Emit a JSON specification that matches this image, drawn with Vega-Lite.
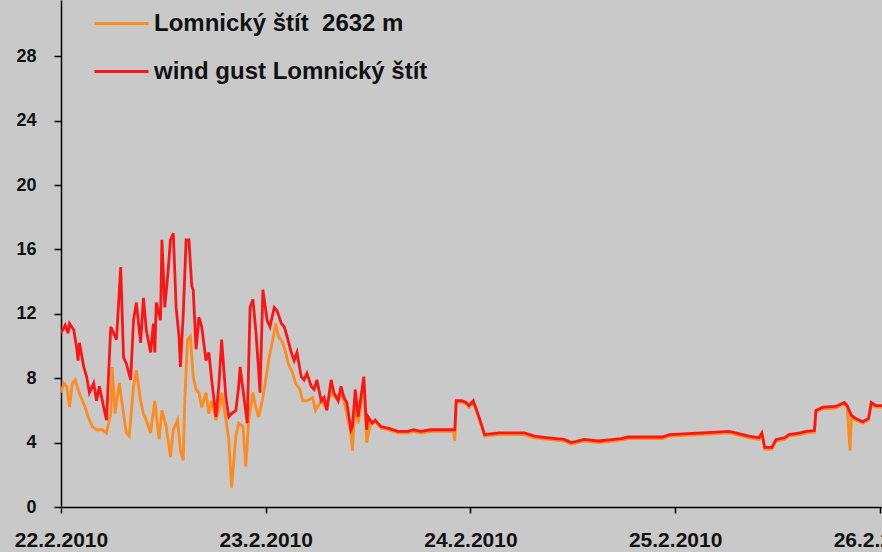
{
  "$schema": "https://vega.github.io/schema/vega-lite/v6.json",
  "width": 821,
  "height": 507,
  "autosize": {"type": "none"},
  "padding": {"left": 61, "top": 0, "right": 0, "bottom": 45},
  "background": "#c9c9c9",
  "config": {
    "view": {"stroke": null, "fill": "#c9c9c9"},
    "axis": {
      "domainColor": "#000000",
      "domainWidth": 1.5,
      "tickColor": "#000000",
      "tickWidth": 1.5,
      "labelFont": "Liberation Sans",
      "labelFontWeight": "bold",
      "labelColor": "#111111",
      "grid": false,
      "title": null
    }
  },
  "datasets": {
    "speed": [
      {"t": "2010-02-22T00:00", "v": 7.1}, {"t": "2010-02-22T00:20", "v": 7.7}, {"t": "2010-02-22T00:40", "v": 7.5},
      {"t": "2010-02-22T01:00", "v": 6.2}, {"t": "2010-02-22T01:20", "v": 7.7}, {"t": "2010-02-22T01:40", "v": 7.9},
      {"t": "2010-02-22T02:00", "v": 7.3}, {"t": "2010-02-22T02:30", "v": 6.6}, {"t": "2010-02-22T02:50", "v": 6.2},
      {"t": "2010-02-22T03:10", "v": 5.6}, {"t": "2010-02-22T03:40", "v": 5.0}, {"t": "2010-02-22T04:10", "v": 4.8},
      {"t": "2010-02-22T04:50", "v": 4.8}, {"t": "2010-02-22T05:20", "v": 4.6}, {"t": "2010-02-22T05:50", "v": 5.8},
      {"t": "2010-02-22T06:00", "v": 8.7}, {"t": "2010-02-22T06:20", "v": 5.8}, {"t": "2010-02-22T06:50", "v": 7.7},
      {"t": "2010-02-22T07:20", "v": 5.8}, {"t": "2010-02-22T07:40", "v": 4.6}, {"t": "2010-02-22T08:00", "v": 4.4},
      {"t": "2010-02-22T08:30", "v": 7.5}, {"t": "2010-02-22T08:50", "v": 8.5}, {"t": "2010-02-22T09:20", "v": 6.6},
      {"t": "2010-02-22T09:40", "v": 5.8}, {"t": "2010-02-22T10:00", "v": 5.4}, {"t": "2010-02-22T10:30", "v": 4.6},
      {"t": "2010-02-22T11:00", "v": 6.6}, {"t": "2010-02-22T11:30", "v": 4.2}, {"t": "2010-02-22T11:50", "v": 6.0},
      {"t": "2010-02-22T12:20", "v": 5.0}, {"t": "2010-02-22T12:50", "v": 3.1}, {"t": "2010-02-22T13:10", "v": 4.8},
      {"t": "2010-02-22T13:40", "v": 5.4}, {"t": "2010-02-22T14:00", "v": 3.5}, {"t": "2010-02-22T14:20", "v": 2.9},
      {"t": "2010-02-22T14:30", "v": 6.5}, {"t": "2010-02-22T14:50", "v": 10.4}, {"t": "2010-02-22T15:10", "v": 10.6},
      {"t": "2010-02-22T15:30", "v": 8.1}, {"t": "2010-02-22T15:50", "v": 7.3}, {"t": "2010-02-22T16:10", "v": 7.1},
      {"t": "2010-02-22T16:30", "v": 6.2}, {"t": "2010-02-22T17:00", "v": 7.1}, {"t": "2010-02-22T17:20", "v": 5.8},
      {"t": "2010-02-22T17:40", "v": 6.6}, {"t": "2010-02-22T18:10", "v": 5.4}, {"t": "2010-02-22T18:30", "v": 6.0},
      {"t": "2010-02-22T18:50", "v": 7.1}, {"t": "2010-02-22T19:20", "v": 5.4}, {"t": "2010-02-22T19:40", "v": 4.2},
      {"t": "2010-02-22T20:00", "v": 1.2}, {"t": "2010-02-22T20:30", "v": 4.4}, {"t": "2010-02-22T20:50", "v": 5.2},
      {"t": "2010-02-22T21:20", "v": 5.0}, {"t": "2010-02-22T21:40", "v": 2.5}, {"t": "2010-02-22T22:00", "v": 5.4},
      {"t": "2010-02-22T22:30", "v": 7.1}, {"t": "2010-02-22T22:50", "v": 6.2}, {"t": "2010-02-22T23:10", "v": 5.6},
      {"t": "2010-02-22T23:40", "v": 6.8},
      {"t": "2010-02-23T00:00", "v": 7.9}, {"t": "2010-02-23T00:20", "v": 9.1}, {"t": "2010-02-23T00:50", "v": 10.4},
      {"t": "2010-02-23T01:10", "v": 11.4}, {"t": "2010-02-23T01:30", "v": 10.6}, {"t": "2010-02-23T02:00", "v": 10.2},
      {"t": "2010-02-23T02:20", "v": 9.6}, {"t": "2010-02-23T02:40", "v": 8.9}, {"t": "2010-02-23T03:10", "v": 8.3},
      {"t": "2010-02-23T03:30", "v": 7.7}, {"t": "2010-02-23T04:00", "v": 7.3}, {"t": "2010-02-23T04:20", "v": 6.6},
      {"t": "2010-02-23T04:50", "v": 6.6}, {"t": "2010-02-23T05:30", "v": 6.8}, {"t": "2010-02-23T05:50", "v": 6.0},
      {"t": "2010-02-23T06:30", "v": 6.6}, {"t": "2010-02-23T07:00", "v": 6.2}, {"t": "2010-02-23T07:40", "v": 7.1},
      {"t": "2010-02-23T08:30", "v": 6.6}, {"t": "2010-02-23T08:50", "v": 7.2}, {"t": "2010-02-23T09:20", "v": 6.2},
      {"t": "2010-02-23T10:00", "v": 4.5}, {"t": "2010-02-23T10:10", "v": 3.5}, {"t": "2010-02-23T10:30", "v": 6.8},
      {"t": "2010-02-23T10:50", "v": 5.2}, {"t": "2010-02-23T11:30", "v": 7.6}, {"t": "2010-02-23T11:50", "v": 4.0},
      {"t": "2010-02-23T12:20", "v": 5.3}, {"t": "2010-02-23T12:50", "v": 5.3}, {"t": "2010-02-23T13:30", "v": 4.9},
      {"t": "2010-02-23T14:20", "v": 4.8}, {"t": "2010-02-23T15:30", "v": 4.6}, {"t": "2010-02-23T16:40", "v": 4.6},
      {"t": "2010-02-23T17:20", "v": 4.7}, {"t": "2010-02-23T18:10", "v": 4.6}, {"t": "2010-02-23T19:20", "v": 4.7},
      {"t": "2010-02-23T22:00", "v": 4.7}, {"t": "2010-02-23T22:10", "v": 4.1}, {"t": "2010-02-23T22:20", "v": 6.5},
      {"t": "2010-02-23T23:00", "v": 6.5}, {"t": "2010-02-23T23:30", "v": 6.4}, {"t": "2010-02-23T23:50", "v": 6.2},
      {"t": "2010-02-24T00:20", "v": 6.5}, {"t": "2010-02-24T01:00", "v": 5.5}, {"t": "2010-02-24T01:40", "v": 4.4},
      {"t": "2010-02-24T03:20", "v": 4.5}, {"t": "2010-02-24T06:20", "v": 4.5}, {"t": "2010-02-24T07:30", "v": 4.3},
      {"t": "2010-02-24T09:10", "v": 4.2}, {"t": "2010-02-24T11:00", "v": 4.1}, {"t": "2010-02-24T11:50", "v": 3.9},
      {"t": "2010-02-24T13:20", "v": 4.1}, {"t": "2010-02-24T15:00", "v": 4.0}, {"t": "2010-02-24T16:50", "v": 4.1},
      {"t": "2010-02-24T17:40", "v": 4.15}, {"t": "2010-02-24T18:30", "v": 4.25}, {"t": "2010-02-24T22:30", "v": 4.25},
      {"t": "2010-02-24T23:20", "v": 4.4},
      {"t": "2010-02-25T03:10", "v": 4.5}, {"t": "2010-02-25T06:20", "v": 4.6}, {"t": "2010-02-25T08:40", "v": 4.3},
      {"t": "2010-02-25T09:50", "v": 4.2}, {"t": "2010-02-25T10:10", "v": 4.5}, {"t": "2010-02-25T10:30", "v": 3.6},
      {"t": "2010-02-25T11:20", "v": 3.6}, {"t": "2010-02-25T11:50", "v": 4.1}, {"t": "2010-02-25T12:50", "v": 4.2},
      {"t": "2010-02-25T13:20", "v": 4.4}, {"t": "2010-02-25T14:40", "v": 4.5}, {"t": "2010-02-25T15:20", "v": 4.6},
      {"t": "2010-02-25T16:20", "v": 4.65}, {"t": "2010-02-25T16:30", "v": 5.9}, {"t": "2010-02-25T17:20", "v": 6.1},
      {"t": "2010-02-25T18:50", "v": 6.15}, {"t": "2010-02-25T19:50", "v": 6.4}, {"t": "2010-02-25T20:10", "v": 6.2},
      {"t": "2010-02-25T20:30", "v": 3.5}, {"t": "2010-02-25T20:40", "v": 5.6}, {"t": "2010-02-25T21:10", "v": 5.4},
      {"t": "2010-02-25T22:00", "v": 5.2}, {"t": "2010-02-25T22:40", "v": 5.4}, {"t": "2010-02-25T23:00", "v": 6.4},
      {"t": "2010-02-25T23:30", "v": 6.2}, {"t": "2010-02-26T00:35", "v": 6.2}
    ],
    "gust": [
      {"t": "2010-02-22T00:00", "v": 10.8}, {"t": "2010-02-22T00:30", "v": 11.3}, {"t": "2010-02-22T00:50", "v": 10.8},
      {"t": "2010-02-22T01:00", "v": 11.4}, {"t": "2010-02-22T01:30", "v": 11.0}, {"t": "2010-02-22T01:50", "v": 9.9},
      {"t": "2010-02-22T02:00", "v": 9.1}, {"t": "2010-02-22T02:10", "v": 10.2}, {"t": "2010-02-22T02:40", "v": 8.7},
      {"t": "2010-02-22T03:00", "v": 8.1}, {"t": "2010-02-22T03:20", "v": 7.1}, {"t": "2010-02-22T03:50", "v": 7.7},
      {"t": "2010-02-22T04:10", "v": 6.6}, {"t": "2010-02-22T04:30", "v": 7.5}, {"t": "2010-02-22T05:00", "v": 6.2},
      {"t": "2010-02-22T05:20", "v": 5.4}, {"t": "2010-02-22T05:50", "v": 11.2}, {"t": "2010-02-22T06:10", "v": 10.8},
      {"t": "2010-02-22T06:30", "v": 10.4}, {"t": "2010-02-22T07:00", "v": 14.9}, {"t": "2010-02-22T07:20", "v": 9.3},
      {"t": "2010-02-22T07:40", "v": 8.9}, {"t": "2010-02-22T08:10", "v": 7.9}, {"t": "2010-02-22T08:30", "v": 11.6},
      {"t": "2010-02-22T08:50", "v": 12.7}, {"t": "2010-02-22T09:20", "v": 10.2}, {"t": "2010-02-22T09:40", "v": 13.0},
      {"t": "2010-02-22T10:00", "v": 11.0}, {"t": "2010-02-22T10:30", "v": 9.6}, {"t": "2010-02-22T10:50", "v": 11.4},
      {"t": "2010-02-22T11:00", "v": 9.6}, {"t": "2010-02-22T11:10", "v": 12.7}, {"t": "2010-02-22T11:40", "v": 11.6},
      {"t": "2010-02-22T11:50", "v": 16.6}, {"t": "2010-02-22T12:10", "v": 12.4}, {"t": "2010-02-22T12:30", "v": 14.3},
      {"t": "2010-02-22T12:50", "v": 16.6}, {"t": "2010-02-22T13:10", "v": 17.0}, {"t": "2010-02-22T13:30", "v": 12.4},
      {"t": "2010-02-22T13:50", "v": 10.6}, {"t": "2010-02-22T14:00", "v": 8.7}, {"t": "2010-02-22T14:20", "v": 12.0},
      {"t": "2010-02-22T14:40", "v": 16.6}, {"t": "2010-02-22T15:00", "v": 16.6}, {"t": "2010-02-22T15:20", "v": 13.7},
      {"t": "2010-02-22T15:30", "v": 13.5}, {"t": "2010-02-22T15:50", "v": 9.8}, {"t": "2010-02-22T16:10", "v": 11.8},
      {"t": "2010-02-22T16:30", "v": 11.2}, {"t": "2010-02-22T17:00", "v": 9.1}, {"t": "2010-02-22T17:20", "v": 9.6},
      {"t": "2010-02-22T17:40", "v": 7.9}, {"t": "2010-02-22T18:10", "v": 5.6}, {"t": "2010-02-22T18:30", "v": 7.5},
      {"t": "2010-02-22T18:50", "v": 10.4}, {"t": "2010-02-22T19:20", "v": 6.8}, {"t": "2010-02-22T19:40", "v": 5.6},
      {"t": "2010-02-22T20:00", "v": 5.8}, {"t": "2010-02-22T20:30", "v": 6.0}, {"t": "2010-02-22T20:50", "v": 7.5},
      {"t": "2010-02-22T21:00", "v": 8.7}, {"t": "2010-02-22T21:30", "v": 6.6}, {"t": "2010-02-22T21:50", "v": 5.2},
      {"t": "2010-02-22T22:10", "v": 12.4}, {"t": "2010-02-22T22:30", "v": 12.9}, {"t": "2010-02-22T22:50", "v": 11.0},
      {"t": "2010-02-22T23:10", "v": 8.5}, {"t": "2010-02-22T23:20", "v": 7.1}, {"t": "2010-02-22T23:40", "v": 13.5},
      {"t": "2010-02-23T00:10", "v": 11.6}, {"t": "2010-02-23T00:30", "v": 11.2}, {"t": "2010-02-23T01:00", "v": 12.4},
      {"t": "2010-02-23T01:20", "v": 12.2}, {"t": "2010-02-23T01:50", "v": 11.4}, {"t": "2010-02-23T02:10", "v": 11.2},
      {"t": "2010-02-23T02:30", "v": 10.6}, {"t": "2010-02-23T03:00", "v": 9.6}, {"t": "2010-02-23T03:20", "v": 9.1},
      {"t": "2010-02-23T03:40", "v": 9.6}, {"t": "2010-02-23T04:10", "v": 8.1}, {"t": "2010-02-23T04:30", "v": 7.9},
      {"t": "2010-02-23T04:50", "v": 8.3}, {"t": "2010-02-23T05:20", "v": 7.5}, {"t": "2010-02-23T05:40", "v": 7.3},
      {"t": "2010-02-23T06:00", "v": 7.9}, {"t": "2010-02-23T06:30", "v": 6.6}, {"t": "2010-02-23T06:50", "v": 6.8},
      {"t": "2010-02-23T07:10", "v": 6.0}, {"t": "2010-02-23T07:40", "v": 7.9}, {"t": "2010-02-23T08:00", "v": 7.1},
      {"t": "2010-02-23T08:30", "v": 6.6}, {"t": "2010-02-23T08:50", "v": 7.5}, {"t": "2010-02-23T09:10", "v": 6.8},
      {"t": "2010-02-23T09:30", "v": 6.5}, {"t": "2010-02-23T10:00", "v": 4.8}, {"t": "2010-02-23T10:10", "v": 5.0},
      {"t": "2010-02-23T10:30", "v": 7.3}, {"t": "2010-02-23T10:50", "v": 5.6}, {"t": "2010-02-23T11:30", "v": 8.1},
      {"t": "2010-02-23T11:50", "v": 4.8}, {"t": "2010-02-23T12:00", "v": 5.6}, {"t": "2010-02-23T12:30", "v": 5.2},
      {"t": "2010-02-23T12:50", "v": 5.4}, {"t": "2010-02-23T13:20", "v": 5.1}, {"t": "2010-02-23T13:30", "v": 5.0},
      {"t": "2010-02-23T14:20", "v": 4.9}, {"t": "2010-02-23T15:30", "v": 4.7}, {"t": "2010-02-23T16:40", "v": 4.7},
      {"t": "2010-02-23T17:20", "v": 4.8}, {"t": "2010-02-23T18:10", "v": 4.7}, {"t": "2010-02-23T19:20", "v": 4.8},
      {"t": "2010-02-23T22:00", "v": 4.8}, {"t": "2010-02-23T22:10", "v": 4.8}, {"t": "2010-02-23T22:20", "v": 6.6},
      {"t": "2010-02-23T23:00", "v": 6.6}, {"t": "2010-02-23T23:30", "v": 6.5}, {"t": "2010-02-23T23:50", "v": 6.3},
      {"t": "2010-02-24T00:20", "v": 6.6}, {"t": "2010-02-24T01:00", "v": 5.6}, {"t": "2010-02-24T01:40", "v": 4.5},
      {"t": "2010-02-24T03:20", "v": 4.6}, {"t": "2010-02-24T06:20", "v": 4.6}, {"t": "2010-02-24T07:30", "v": 4.4},
      {"t": "2010-02-24T09:10", "v": 4.3}, {"t": "2010-02-24T11:00", "v": 4.2}, {"t": "2010-02-24T11:50", "v": 4.0},
      {"t": "2010-02-24T13:20", "v": 4.2}, {"t": "2010-02-24T15:00", "v": 4.1}, {"t": "2010-02-24T16:50", "v": 4.2},
      {"t": "2010-02-24T17:40", "v": 4.25}, {"t": "2010-02-24T18:30", "v": 4.35}, {"t": "2010-02-24T22:30", "v": 4.35},
      {"t": "2010-02-24T23:20", "v": 4.5},
      {"t": "2010-02-25T03:10", "v": 4.6}, {"t": "2010-02-25T06:20", "v": 4.7}, {"t": "2010-02-25T08:40", "v": 4.4},
      {"t": "2010-02-25T09:50", "v": 4.3}, {"t": "2010-02-25T10:10", "v": 4.6}, {"t": "2010-02-25T10:30", "v": 3.7},
      {"t": "2010-02-25T11:20", "v": 3.7}, {"t": "2010-02-25T11:50", "v": 4.2}, {"t": "2010-02-25T12:50", "v": 4.3},
      {"t": "2010-02-25T13:20", "v": 4.5}, {"t": "2010-02-25T14:40", "v": 4.6}, {"t": "2010-02-25T15:20", "v": 4.7},
      {"t": "2010-02-25T16:20", "v": 4.75}, {"t": "2010-02-25T16:30", "v": 6.0}, {"t": "2010-02-25T17:20", "v": 6.2},
      {"t": "2010-02-25T18:50", "v": 6.25}, {"t": "2010-02-25T19:50", "v": 6.5}, {"t": "2010-02-25T20:10", "v": 6.3},
      {"t": "2010-02-25T20:40", "v": 5.7}, {"t": "2010-02-25T21:10", "v": 5.5}, {"t": "2010-02-25T22:00", "v": 5.3},
      {"t": "2010-02-25T22:40", "v": 5.5}, {"t": "2010-02-25T23:00", "v": 6.5}, {"t": "2010-02-25T23:30", "v": 6.3},
      {"t": "2010-02-26T00:35", "v": 6.3}
    ]
  },
  "encoding": {
    "x": {
      "field": "t",
      "type": "temporal",
      "scale": {
        "domain": [
          {"year": 2010, "month": 2, "date": 22},
          {"year": 2010, "month": 2, "date": 26, "hours": 0, "minutes": 15}
        ]
      },
      "axis": {
        "values": [
          {"year": 2010, "month": 2, "date": 22},
          {"year": 2010, "month": 2, "date": 23},
          {"year": 2010, "month": 2, "date": 24},
          {"year": 2010, "month": 2, "date": 25},
          {"year": 2010, "month": 2, "date": 26}
        ],
        "format": "%-d.%-m.%Y",
        "labelFontSize": 21,
        "tickSize": 6,
        "labelPadding": 16,
        "labelOverlap": false,
        "labelFlush": false,
        "labelBound": false
      }
    },
    "y": {
      "field": "v",
      "type": "quantitative",
      "scale": {"domain": [0, 31.5], "nice": false},
      "axis": {
        "values": [0, 4, 8, 12, 16, 20, 24, 28],
        "labelFontSize": 18,
        "tickSize": 7,
        "labelPadding": 18
      }
    }
  },
  "layer": [
    {
      "data": {"name": "speed"},
      "mark": {"type": "line", "strokeWidth": 2.8, "clip": true},
      "encoding": {
        "color": {
          "datum": "Lomnický štít  2632 m",
          "type": "nominal",
          "scale": {
            "domain": ["Lomnický štít  2632 m", "wind gust Lomnický štít"],
            "range": ["#ff8a1e", "#ff1414"]
          },
          "legend": {
            "title": null,
            "orient": "none",
            "legendX": 32,
            "legendY": -5,
            "padding": 0,
            "symbolType": "stroke",
            "symbolSize": 2916,
            "symbolStrokeWidth": 3,
            "labelFont": "Liberation Sans",
            "labelFontWeight": "bold",
            "labelFontSize": 24,
            "labelColor": "#111111",
            "labelOffset": 4,
            "labelLimit": 500,
            "rowPadding": 7,
            "labelExpr": "replace(datum.label, '  ', '\u00a0 ')"
          }
        }
      }
    },
    {
      "data": {"name": "gust"},
      "mark": {"type": "line", "strokeWidth": 2.8, "clip": true},
      "encoding": {
        "color": {"datum": "wind gust Lomnický štít", "type": "nominal"}
      }
    }
  ]
}
